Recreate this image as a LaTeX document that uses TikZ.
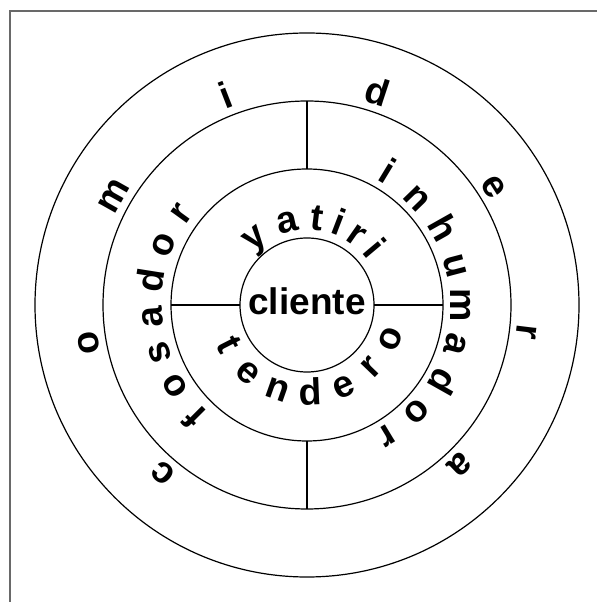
\documentclass[tikz,border=0pt]{standalone}
\usepackage{fontspec}
\setmainfont{Liberation Sans}
\usepackage{tikz}
\definecolor{framegray}{RGB}{105,105,105}
\tikzset{
  ring/.style={draw,circle,line width=1.2pt,inner sep=0pt,outer sep=0pt},
  ringletter/.style={font=\fontsize{37.5}{37.5}\selectfont\bfseries,inner sep=0pt,
    text height=19.5pt,text depth=0pt,anchor=center},
  divider/.style={line width=1.2pt},
  frameline/.style={draw=framegray,line width=2pt}
}

\begin{document}
\begin{tikzpicture}[x=1pt,y=1pt]
  \useasboundingbox (0,0) rectangle (597,602);
  \coordinate (c) at (307,297);
  \draw[frameline] (10,0) -- (10,591) -- (597,591);
  % rings
  \node[ring,minimum size=544pt] (outer) at (c) {};
  \node[ring,minimum size=408pt] (middle) at (c) {};
  \node[ring,minimum size=272pt] (inner) at (c) {};
  \node[ring,minimum size=134pt,text depth=7pt,
    font=\fontsize{37}{37}\selectfont\bfseries] (cliente) at (c) {cliente};
  \draw[divider] (cliente.west) -- (inner.west);
  \draw[divider] (cliente.east) -- (inner.east);
  \draw[divider] (inner.north) -- (middle.north);
  \draw[divider] (inner.south) -- (middle.south);
  % words round the rings
  \foreach \l [count=\i] in {c,o,m,i,d,e,r,a}{
    \pgfmathsetmacro\ang{229.4-39.4*(\i-1)}
    \node[ringletter,rotate=\ang-90] (comidera\i) at ([shift={(\ang:221)}]c) {\l};}
  \foreach \l [count=\i] in {i,n,h,u,m,a,d,o,r}{
    \pgfmathsetmacro\ang{58.8-14.7*(\i-1)}
    \node[ringletter,rotate=\ang-90] (inhumador\i) at ([shift={(\ang:153)}]c) {\l};}
  \foreach \l [count=\i] in {f,o,s,a,d,o,r}{
    \pgfmathsetmacro\ang{225-13.5*(\i-1)}
    \node[ringletter,rotate=\ang-90] (fosador\i) at ([shift={(\ang:155)}]c) {\l};}
  \foreach \l/\ang [count=\i] in {y/128,a/103,t/83,i/69,r/55,i/40}
    \node[ringletter,rotate=\ang-90] (yatiri\i) at ([shift={(\ang:85)}]c) {\l};
  \foreach \l [count=\i] in {t,e,n,d,e,r,o}{
    \pgfmathsetmacro\ang{207+21.8*(\i-1)}
    \node[ringletter,rotate=\ang+90] (tendero\i) at ([shift={(\ang:90)}]c) {\l};}
\end{tikzpicture}
\end{document}
